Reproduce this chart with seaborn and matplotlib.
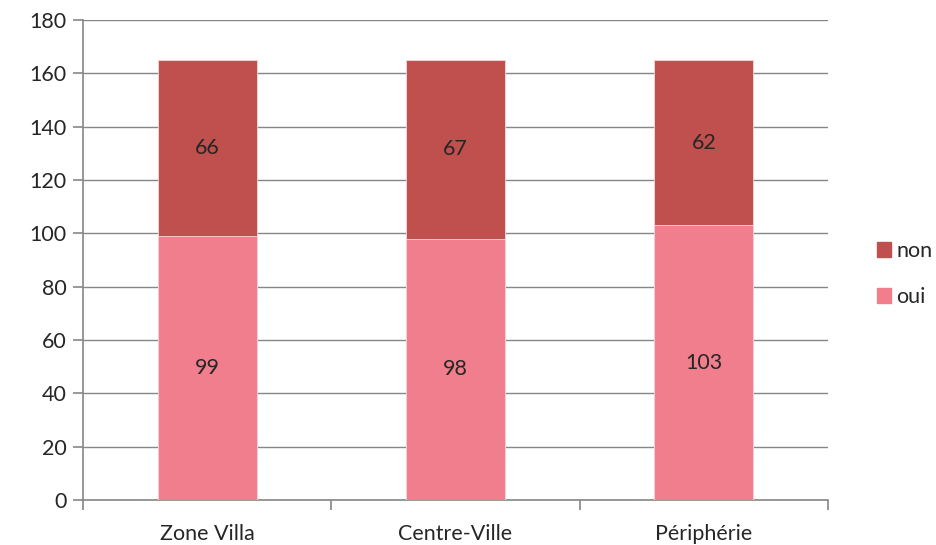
import matplotlib
matplotlib.use("Agg")
import matplotlib.pyplot as plt
import seaborn as sns
import pandas as pd
from matplotlib.patches import Patch

zones = ["Zone Villa", "Centre-Ville", "Périphérie"]
oui = [99, 98, 103]
non = [66, 67, 62]

c_oui = "#F07E8C"
c_non = "#C0504D"
grid_c = "#868686"

df = pd.DataFrame({"zone": zones, "oui": oui, "non": non})
df["total"] = df["oui"] + df["non"]

sns.set_style("white")
plt.rcParams["font.family"] = ["Lato", "DejaVu Sans"]
fs = 15.5

fig = plt.figure(figsize=(9.36, 5.45), dpi=100)
ax = fig.add_axes([0.0887, 0.0826, 0.7959, 0.8807])

# stacked: draw the total (non on top) first, then oui over it
sns.barplot(data=df, x="zone", y="total", color=c_non, width=0.4,
            saturation=1, ax=ax, zorder=3, edgecolor="#F2DCDB", linewidth=0.6)
sns.barplot(data=df, x="zone", y="oui", color=c_oui, width=0.4,
            saturation=1, ax=ax, zorder=3, edgecolor="#F9D6DB", linewidth=0.6)

for i, z in enumerate(zones):
    ax.text(i, oui[i] + non[i] / 2, str(non[i]), ha="center", va="center",
            fontsize=fs, zorder=4)
    ax.text(i, oui[i] / 2, str(oui[i]), ha="center", va="center",
            fontsize=fs, zorder=4)

ax.set_ylim(0, 180)
ax.set_xlim(-0.5, 2.5)
ax.set_yticks(range(0, 181, 20))
ax.yaxis.grid(True, color=grid_c, linewidth=1, zorder=0)
ax.set_axisbelow(True)
ax.set_xlabel("")
ax.set_ylabel("")

for s in ["top", "right"]:
    ax.spines[s].set_visible(False)
for s in ["left", "bottom"]:
    ax.spines[s].set_color(grid_c)
    ax.spines[s].set_linewidth(1.2)

ax.tick_params(axis="y", which="major", length=7, color=grid_c, width=1.2,
               labelsize=fs, left=True, pad=5)
ax.tick_params(axis="x", which="major", length=0, labelsize=fs, pad=17)
ax.set_xticks([-0.5, 0.5, 1.5, 2.5], minor=True)
ax.tick_params(axis="x", which="minor", length=7, color=grid_c, width=1.2,
               bottom=True)

handles = [Patch(color=c_non, label="non"), Patch(color=c_oui, label="oui")]
fig.legend(handles=handles, loc="center left", bbox_to_anchor=(0.928, 0.497),
           frameon=False, fontsize=fs, handlelength=0.65, handleheight=0.65,
           handletextpad=0.25, labelspacing=1.2, borderaxespad=0)

fig.savefig("out.png", dpi=100)
